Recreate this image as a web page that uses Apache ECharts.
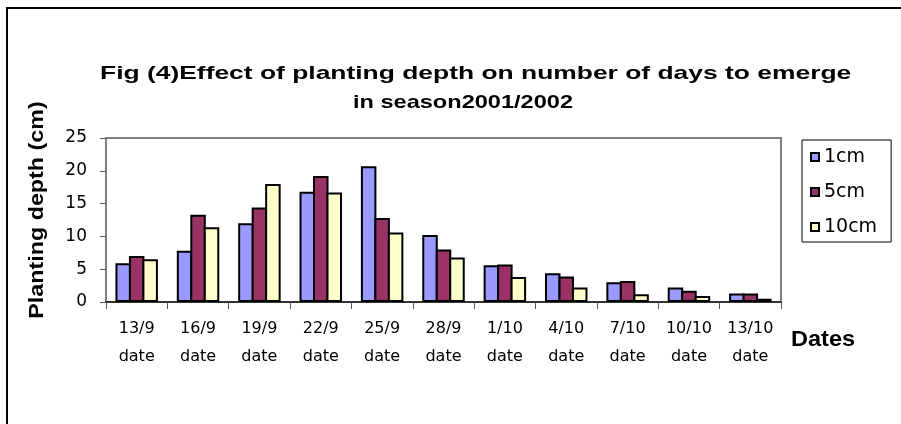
<!DOCTYPE html>
<html>
<head>
<meta charset="utf-8">
<title>Planting depth</title>
<script src="https://cdn.jsdelivr.net/npm/echarts@6/dist/echarts.min.js"></script>
<style>
  html, body { margin: 0; padding: 0; background: #fff; }
  #chart { width: 901px; height: 424px; }
</style>
</head>
<body>
<div id="chart"></div>
<script>
// data
var dates = ['13/9', '16/9', '19/9', '22/9', '25/9', '28/9', '1/10', '4/10', '7/10', '10/10', '13/10']
var depth1 = [5.9, 7.8, 12.0, 16.8, 20.7, 10.2, 5.6, 4.4, 3.0, 2.2, 1.3]
var depth5 = [7.0, 13.3, 14.4, 19.2, 12.8, 8.0, 5.7, 3.9, 3.2, 1.7, 1.3]
var depth10 = [6.5, 11.4, 18.0, 16.7, 10.6, 6.8, 3.8, 2.2, 1.2, 0.9, 0.5]
var seriesNames = ['1cm', '5cm', '10cm']
var yTicks = [0, 5, 10, 15, 20, 25]

var font = 'DejaVu Sans'
var titleFont = 'bold 19px "Liberation Sans"'

var chart = echarts.init(document.getElementById('chart'))

var barStyle = function (color) {
    return { color: color, borderColor: '#000', borderWidth: 2 }
}

var option = {
    backgroundColor: '#fff',
    animation: false,
    graphic: [
        {
            type: 'rect',
            shape: { x: 7, y: 8, width: 1000, height: 1000 },
            style: { fill: 'none', stroke: '#000', lineWidth: 2 },
            silent: true
        },
        // title, two lines (text stretched sideways like the original)
        {
            type: 'text',
            x: 100, y: 74, scaleX: 1.39,
            style: {
                text: 'Fig (4)Effect of planting depth on number of days to emerge',
                font: titleFont, fill: '#000',
                textAlign: 'left', textVerticalAlign: 'middle'
            }
        },
        {
            type: 'text',
            x: 463, y: 103, scaleX: 1.24,
            style: {
                text: 'in season2001/2002',
                font: titleFont, fill: '#000',
                textAlign: 'center', textVerticalAlign: 'middle'
            }
        },
        // axis titles
        {
            type: 'text',
            x: 37, y: 210, rotation: Math.PI / 2, scaleX: 1.11,
            style: {
                text: 'Planting depth (cm)',
                font: 'bold 21px "Liberation Sans"', fill: '#000',
                textAlign: 'center', textVerticalAlign: 'middle'
            }
        },
        {
            type: 'text',
            x: 791, y: 340, scaleX: 1.07,
            style: {
                text: 'Dates',
                font: 'bold 22px "Liberation Sans"', fill: '#000',
                textAlign: 'left', textVerticalAlign: 'middle'
            }
        }
    ],
    legend: {
        orient: 'vertical',
        left: 802,
        top: 140,
        padding: [7, 14, 5, 8],
        itemGap: 15,
        itemWidth: 8,
        itemHeight: 8,
        itemTextGap: 11,
        icon: 'rect',
        borderColor: '#000',
        borderWidth: 1,
        borderRadius: 0,
        data: seriesNames,
        textStyle: { fontFamily: font, fontSize: 19, color: '#000', lineHeight: 20 }
    },
    grid: {
        left: 106,
        top: 138,
        width: 675,
        height: 164,
        show: true,
        borderColor: '#808080',
        borderWidth: 2,
        backgroundColor: '#fff'
    },
    xAxis: {
        type: 'category',
        data: dates,
        axisLine: { lineStyle: { color: '#333', width: 2 } },
        axisTick: { show: true, length: 7, lineStyle: { color: '#555', width: 1 } },
        axisLabel: {
            interval: 0,
            margin: 13,
            fontFamily: font,
            fontSize: 16,
            lineHeight: 28,
            color: '#000',
            formatter: function (v) { return v + '\ndate' }
        },
        splitLine: { show: false }
    },
    yAxis: {
        type: 'value',
        min: yTicks[0],
        max: yTicks[yTicks.length - 1],
        interval: 5,
        axisLine: { show: true, lineStyle: { color: '#808080', width: 2 } },
        axisTick: { show: true, length: 6, lineStyle: { color: '#555', width: 1 } },
        axisLabel: { margin: 19, fontFamily: font, fontSize: 17, color: '#000' },
        splitLine: { show: false }
    },
    series: [
        { name: '1cm', type: 'bar', data: depth1, barWidth: 15.5, barGap: '-13%', itemStyle: barStyle('#9999FF') },
        { name: '5cm', type: 'bar', data: depth5, barWidth: 15.5, barGap: '-13%', itemStyle: barStyle('#993366') },
        { name: '10cm', type: 'bar', data: depth10, barWidth: 15.5, barGap: '-13%', itemStyle: barStyle('#FFFFCC') }
    ]
}

chart.setOption(option)
</script>
</body>
</html>
